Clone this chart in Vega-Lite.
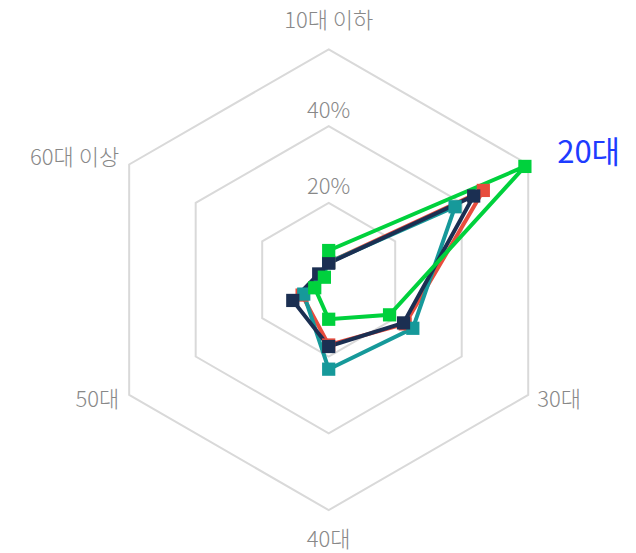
{
  "$schema": "https://vega.github.io/schema/vega-lite/v6.json",
  "width": 636,
  "height": 553,
  "padding": 0,
  "autosize": {"type": "none"},
  "config": {"view": {"stroke": null}, "font": "Noto Sans CJK KR"},
  "datasets": {
    "series": [
      {"series": "A", "axis": "10대 이하", "value": 4.5},
      {"series": "A", "axis": "20대", "value": 46.5},
      {"series": "A", "axis": "30대", "value": 23},
      {"series": "A", "axis": "40대", "value": 17},
      {"series": "A", "axis": "50대", "value": 8},
      {"series": "A", "axis": "60대 이상", "value": 2.5},
      {"series": "B", "axis": "10대 이하", "value": 4.5},
      {"series": "B", "axis": "20대", "value": 38},
      {"series": "B", "axis": "30대", "value": 25.3},
      {"series": "B", "axis": "40대", "value": 23.3},
      {"series": "B", "axis": "50대", "value": 7.5},
      {"series": "B", "axis": "60대 이상", "value": 2.5},
      {"series": "C", "axis": "10대 이하", "value": 4.3},
      {"series": "C", "axis": "20대", "value": 43.6},
      {"series": "C", "axis": "30대", "value": 22.5},
      {"series": "C", "axis": "40대", "value": 17.4},
      {"series": "C", "axis": "50대", "value": 10.8},
      {"series": "C", "axis": "60대 이상", "value": 3},
      {"series": "D", "axis": "10대 이하", "value": 7.6},
      {"series": "D", "axis": "20대", "value": 59},
      {"series": "D", "axis": "30대", "value": 18.3},
      {"series": "D", "axis": "40대", "value": 10.3},
      {"series": "D", "axis": "50대", "value": 4.2},
      {"series": "D", "axis": "60대 이상", "value": 1.3}
    ],
    "grid": [
      {"level": 20, "axis": "10대 이하"}, {"level": 20, "axis": "20대"}, {"level": 20, "axis": "30대"},
      {"level": 20, "axis": "40대"}, {"level": 20, "axis": "50대"}, {"level": 20, "axis": "60대 이상"},
      {"level": 40, "axis": "10대 이하"}, {"level": 40, "axis": "20대"}, {"level": 40, "axis": "30대"},
      {"level": 40, "axis": "40대"}, {"level": 40, "axis": "50대"}, {"level": 40, "axis": "60대 이상"},
      {"level": 60, "axis": "10대 이하"}, {"level": 60, "axis": "20대"}, {"level": 60, "axis": "30대"},
      {"level": 60, "axis": "40대"}, {"level": 60, "axis": "50대"}, {"level": 60, "axis": "60대 이상"}
    ],
    "ticks": [
      {"level": 20, "label": "20%"},
      {"level": 40, "label": "40%"}
    ],
    "axes": [
      {"axis": "10대 이하", "side": "top"},
      {"axis": "20대", "side": "highlight"},
      {"axis": "30대", "side": "right"},
      {"axis": "40대", "side": "bottom"},
      {"axis": "50대", "side": "left"},
      {"axis": "60대 이상", "side": "left"}
    ]
  },
  "layer": [
    {
      "data": {"name": "grid"},
      "transform": [
        {"calculate": "indexof(['10대 이하','20대','30대','40대','50대','60대 이상'], datum.axis) * PI / 3", "as": "a"},
        {"calculate": "datum.level * sin(datum.a)", "as": "x"},
        {"calculate": "datum.level * cos(datum.a)", "as": "y"}
      ],
      "mark": {"type": "line", "interpolate": "linear-closed", "stroke": "#d9d9d9", "strokeWidth": 2},
      "encoding": {
        "x": {"field": "x", "type": "quantitative", "scale": {"domain": [-85.6, 80.03], "nice": false, "zero": false}, "axis": null},
        "y": {"field": "y", "type": "quantitative", "scale": {"domain": [-71.17, 72.84], "nice": false, "zero": false}, "axis": null},
        "detail": {"field": "level", "type": "nominal"},
        "order": {"field": "a", "type": "quantitative"}
      }
    },
    {
      "data": {"name": "ticks"},
      "transform": [
        {"calculate": "0", "as": "x"},
        {"calculate": "datum.level", "as": "y"}
      ],
      "mark": {"type": "text", "align": "center", "baseline": "alphabetic", "dy": -8.5, "fontSize": 22, "fontWeight": 300, "color": "#888888"},
      "encoding": {
        "x": {"field": "x", "type": "quantitative"},
        "y": {"field": "y", "type": "quantitative"},
        "text": {"field": "label"}
      }
    },
    {
      "data": {"name": "series"},
      "transform": [
        {"calculate": "indexof(['10대 이하','20대','30대','40대','50대','60대 이상'], datum.axis) * PI / 3", "as": "a"},
        {"calculate": "datum.value * sin(datum.a)", "as": "x"},
        {"calculate": "datum.value * cos(datum.a)", "as": "y"}
      ],
      "layer": [
        {
          "mark": {"type": "line", "interpolate": "linear-closed", "strokeWidth": 4},
          "encoding": {
            "x": {"field": "x", "type": "quantitative"},
            "y": {"field": "y", "type": "quantitative"},
            "color": {"field": "series", "type": "nominal", "scale": {"domain": ["A", "B", "C", "D"], "range": ["#e84c3d", "#16999a", "#1b2f52", "#00d13d"]}, "legend": null},
            "order": {"field": "a", "type": "quantitative"}
          }
        },
        {
          "mark": {"type": "square", "size": 175, "opacity": 1},
          "encoding": {
            "x": {"field": "x", "type": "quantitative"},
            "y": {"field": "y", "type": "quantitative"},
            "color": {"field": "series", "type": "nominal", "legend": null}
          }
        }
      ]
    },
    {
      "data": {"name": "axes"},
      "transform": [
        {"calculate": "indexof(['10대 이하','20대','30대','40대','50대','60대 이상'], datum.axis) * PI / 3", "as": "a"},
        {"calculate": "63 * sin(datum.a)", "as": "x"},
        {"calculate": "63 * cos(datum.a)", "as": "y"}
      ],
      "layer": [
        {
          "transform": [{"filter": "datum.side == 'top'"}],
          "mark": {"type": "text", "align": "center", "baseline": "alphabetic", "dy": -9.5, "fontSize": 22, "fontWeight": 300, "color": "#888888"},
          "encoding": {"x": {"field": "x", "type": "quantitative"}, "y": {"field": "y", "type": "quantitative"}, "text": {"field": "axis"}}
        },
        {
          "transform": [{"filter": "datum.side == 'bottom'"}],
          "mark": {"type": "text", "align": "center", "baseline": "alphabetic", "dy": 25, "fontSize": 22, "fontWeight": 300, "color": "#888888"},
          "encoding": {"x": {"field": "x", "type": "quantitative"}, "y": {"field": "y", "type": "quantitative"}, "text": {"field": "axis"}}
        },
        {
          "transform": [{"filter": "datum.side == 'right'"}],
          "mark": {"type": "text", "align": "left", "baseline": "alphabetic", "dx": -1, "dy": 6.7, "fontSize": 22, "fontWeight": 300, "color": "#888888"},
          "encoding": {"x": {"field": "x", "type": "quantitative"}, "y": {"field": "y", "type": "quantitative"}, "text": {"field": "axis"}}
        },
        {
          "transform": [{"filter": "datum.side == 'left'"}],
          "mark": {"type": "text", "align": "right", "baseline": "alphabetic", "dy": 6.7, "fontSize": 22, "fontWeight": 300, "color": "#888888"},
          "encoding": {"x": {"field": "x", "type": "quantitative"}, "y": {"field": "y", "type": "quantitative"}, "text": {"field": "axis"}}
        },
        {
          "transform": [{"filter": "datum.side == 'highlight'"}],
          "mark": {"type": "text", "align": "left", "baseline": "alphabetic", "dx": 19, "dy": 4, "fontSize": 31, "fontWeight": "normal", "color": "#1e3cff"},
          "encoding": {"x": {"field": "x", "type": "quantitative"}, "y": {"field": "y", "type": "quantitative"}, "text": {"field": "axis"}}
        }
      ]
    }
  ]
}
